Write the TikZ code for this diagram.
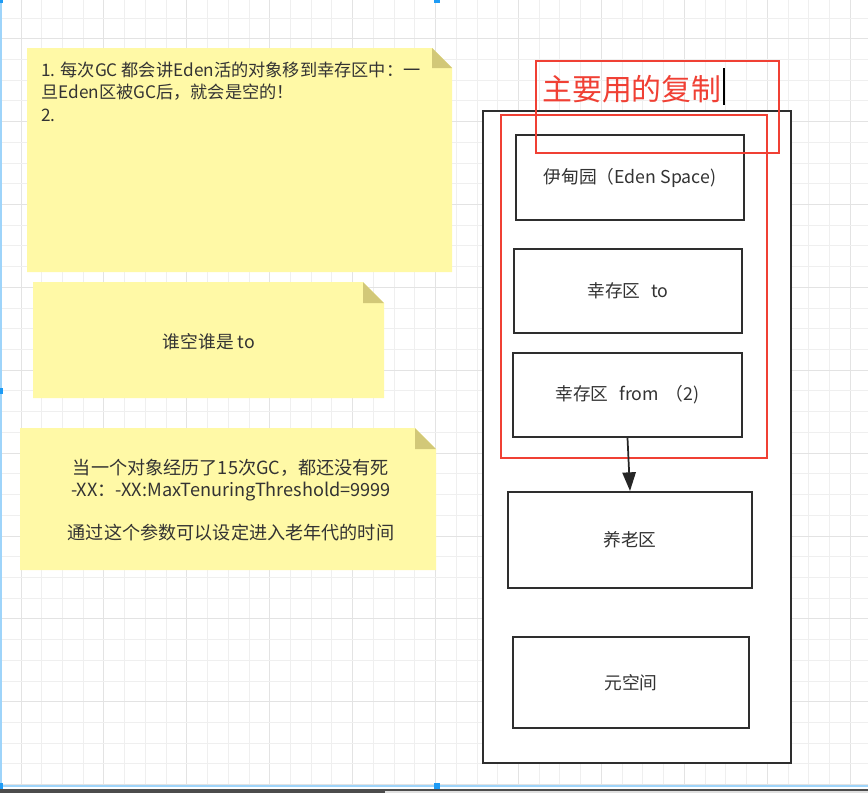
\documentclass[tikz,border=0pt]{standalone}
\usepackage{fontspec}
\setmainfont{Noto Sans CJK SC}
\usetikzlibrary{arrows.meta}
\definecolor{notey}{HTML}{FFF9A6}
\definecolor{notefold}{HTML}{D2C878}
\definecolor{txt}{HTML}{333333}
\definecolor{edge}{HTML}{2E2E2E}
\definecolor{redc}{RGB}{240,64,52}
\definecolor{gridminor}{HTML}{EFEFEF}
\definecolor{gridmajor}{HTML}{E3E3E3}
\definecolor{selblue}{HTML}{9ED4FA}
\definecolor{handle}{HTML}{1E9BF5}
\begin{document}
\begin{tikzpicture}[x=0.75pt,y=-0.75pt,
  txtfont/.style={font=\fontsize{13.3pt}{16.3pt}\selectfont, text=txt},
  blk/.style={draw=edge, line width=1.5pt, fill=white, inner sep=0pt, txtfont},
  redbox/.style={draw=redc, line width=1.5pt, inner sep=0pt},
  notebody/.style={fill=notey},
  notefoldst/.style={fill=notefold},
  conn/.style={draw=black!85, line width=1.3pt, -{Triangle[length=14pt,width=10pt]}}
]
\useasboundingbox (0,0) rectangle (868,793);
\fill[white] (0,0) rectangle (868,793);
% grid
\foreach \i in {0,...,41} {\draw[gridminor, line width=0.75pt] ({21+20.73*\i},0) -- ({21+20.73*\i},786);}
\foreach \i in {0,4,...,40} {\draw[gridmajor, line width=0.75pt] ({21+20.73*\i},0) -- ({21+20.73*\i},786);}
\foreach \j in {0,...,37} {\draw[gridminor, line width=0.75pt] (0,{18+20.72*\j}) -- (868,{18+20.72*\j});}
\foreach \j in {1,5,...,37} {\draw[gridmajor, line width=0.75pt] (0,{18+20.72*\j}) -- (868,{18+20.72*\j});}

% note 1
\fill[notebody] (27,48) -- (432,48) -- (452,68) -- (452,272) -- (27,272) -- cycle;
\fill[notefoldst] (432,48) -- (432,68) -- (452,68) -- cycle;
\node[text=txt, anchor=north west, align=left, inner sep=0pt, font=\fontsize{12.9pt}{16.6pt}\selectfont] (n1) at (41,62)
  {1. 每次GC 都会讲Eden活的对象移到幸存区中：一\\旦Eden区被GC后，就会是空的！\\2.};

% note 2
\fill[notebody] (33,282) -- (363,282) -- (384,303) -- (384,398) -- (33,398) -- cycle;
\fill[notefoldst] (363,282) -- (363,303) -- (384,303) -- cycle;
\node[txtfont] (n2) at (209,342) {谁空谁是 to};

% note 3
\fill[notebody] (20,428) -- (415,428) -- (436,449) -- (436,570) -- (20,570) -- cycle;
\fill[notefoldst] (415,428) -- (415,449) -- (436,449) -- cycle;
\node[txtfont, align=center, font=\fontsize{13.6pt}{16.3pt}\selectfont] (n3) at (231,500.5)
  {当一个对象经历了15次GC，都还没有死\\-XX：-XX:MaxTenuringThreshold=9999\\[16.3pt]通过这个参数可以设定进入老年代的时间};

% heap
\node[blk, minimum width=231pt, minimum height=489pt] (heap) at (637,437) {};
\node[blk, minimum width=171pt, minimum height=63.75pt] (eden) at (630,177.5) {伊甸园（Eden Space)};
\node[blk, minimum width=171pt, minimum height=63pt] (to) at (628,291) {幸存区\hspace{0.6em}to};
\node[blk, minimum width=171.75pt, minimum height=63pt] (from) at (627.5,395) {幸存区\hspace{0.6em}from \,（2)};
\node[blk, minimum width=183pt, minimum height=72pt] (old) at (630,540) {养老区};
\node[blk, minimum width=177pt, minimum height=68.25pt] (meta) at (631,682.5) {元空间};
\node[redbox, minimum width=199.5pt, minimum height=257.25pt] (copy) at (634,286.5) {};
\draw[conn] (from.south) -- (old.north);
\node[redbox, minimum width=182.25pt, minimum height=69pt] (title) at (657.5,107) {};
\node[anchor=west, inner sep=0pt, text=redc, font=\fontsize{22.4pt}{25pt}\selectfont] (tt) at (542,89) {主要用的复制};
\coordinate (c1) at (724,68);
\coordinate (c2) at (724,105);
\draw[black, line width=0.9pt] (c1) -- (c2);

% selection frame and window bottom
\fill[gray!60!black] (0,788.5) rectangle (868,793);
\fill[black!12] (385,791) rectangle (868,793);
\draw[selblue, line width=1.5pt] (0,786) -- (868,786);
\draw[selblue, line width=1.5pt] (0.8,0) -- (0.8,786);
\foreach \hx/\hy in {0/0, 0/391, 0/786, 437/0, 437/786}
  {\fill[handle] (\hx-3,\hy-3) rectangle (\hx+3,\hy+3);}
\end{tikzpicture}
\end{document}
